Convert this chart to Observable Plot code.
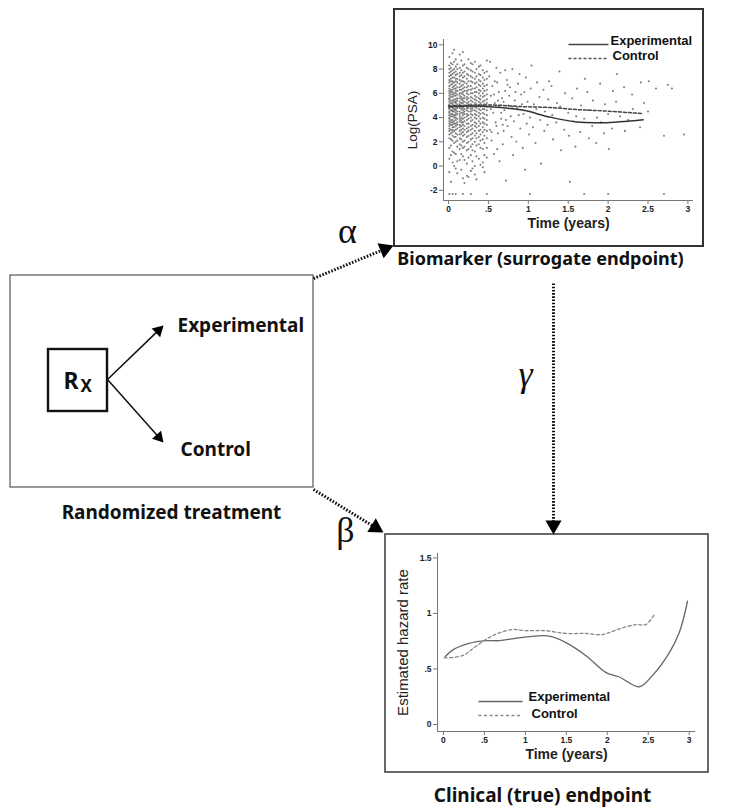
<!DOCTYPE html>
<html><head><meta charset="utf-8">
<script src="https://cdn.jsdelivr.net/npm/d3@7"></script>
<script src="https://cdn.jsdelivr.net/npm/@observablehq/plot@0.6"></script>
<style>
body{margin:0;background:#fff;}
#wrap{position:relative;width:731px;height:809px;overflow:hidden;background:#fff;}
#wrap > svg{position:absolute;}
svg g[aria-label$="tick label"]{font-weight:bold;}
</style></head><body><div id="wrap"></div>
<script>
// ---------- DATA ----------
// Top panel: biomarker Log(PSA) scatter, by visit column (years) and values
const visitTimes = [0.01,0.03,0.05,0.07,0.09,0.11,0.14,0.16,0.18,0.20,0.23,0.25,0.28,0.30,0.33,0.35,0.38,0.40,0.43,0.45,0.48];
const visitPSA = [
  [2.3,2.6,2.9,3.1,3.3,3.5,3.7,3.9,4.0,4.2,4.4,4.5,4.7,4.8,5.0,5.1,5.3,5.5,5.6,5.8,6.0,6.2,6.4,6.6,6.9,7.1,7.4,7.7,8.0,8.3,1.5,0.6,-0.5,9.0,-2.3],
  [2.2,2.7,3.0,3.4,3.6,3.8,4.1,4.3,4.6,4.9,5.2,5.4,5.7,5.9,6.1,6.3,6.7,7.0,7.2,7.5,7.8,8.1,8.5,1.7,0.9,-1.3],
  [2.1,2.5,2.8,3.0,3.2,3.4,3.6,3.8,4.1,4.3,4.5,4.6,4.8,4.9,5.1,5.2,5.4,5.7,5.9,6.1,6.3,6.5,6.8,7.0,7.3,7.6,7.9,8.4,1.2,0.3,9.3,-2.3],
  [1.9,2.4,2.9,3.2,3.5,3.7,4.0,4.2,4.5,4.7,5.0,5.3,5.5,5.8,6.0,6.4,6.6,6.9,7.3,7.7,8.0,8.6,1.1,0.0,9.6],
  [2.0,2.4,2.7,3.0,3.3,3.5,3.8,4.0,4.2,4.4,4.6,4.7,4.9,5.0,5.2,5.3,5.5,5.8,6.0,6.2,6.4,6.7,7.0,7.2,7.5,7.8,8.2,1.0,-0.2,8.8,-2.3],
  [2.1,2.6,3.1,3.4,3.6,3.9,4.3,4.5,4.8,5.1,5.4,5.6,5.9,6.2,6.5,6.9,7.2,7.6,8.0,8.4,1.6,0.4,-0.6],
  [1.8,2.3,2.6,2.9,3.2,3.4,3.7,3.9,4.1,4.3,4.5,4.8,5.0,5.1,5.3,5.6,5.8,6.0,6.3,6.5,6.8,7.1,7.4,7.7,8.1,1.4,0.5,9.2],
  [1.7,2.2,2.7,3.0,3.3,3.6,3.8,4.0,4.4,4.7,4.9,5.2,5.5,5.7,6.0,6.3,6.6,7.0,7.5,7.9,8.7,1.0,-0.3],
  [1.5,2.0,2.5,2.8,3.1,3.4,3.6,3.9,4.2,4.4,4.6,4.8,5.0,5.2,5.4,5.6,5.9,6.1,6.4,6.7,7.0,7.3,7.7,8.3,0.8,-1.0,9.4,-2.3],
  [1.6,2.1,2.6,3.0,3.3,3.7,4.0,4.3,4.5,4.7,5.0,5.3,5.6,5.8,6.2,6.5,6.9,7.4,7.8,8.4,0.5,-1.4],
  [1.3,1.9,2.4,2.8,3.1,3.5,3.8,4.1,4.3,4.6,4.8,5.0,5.2,5.5,5.7,6.0,6.2,6.5,6.8,7.2,7.6,8.1,0.2,-0.8],
  [1.4,2.0,2.5,2.9,3.2,3.5,3.9,4.2,4.5,4.8,5.1,5.3,5.6,5.9,6.3,6.6,7.0,7.5,8.0,8.8,0.7,-0.9],
  [1.6,2.2,2.6,3.0,3.3,3.7,4.0,4.3,4.5,4.7,4.9,5.1,5.4,5.7,6.0,6.3,6.6,7.0,7.4,7.9,8.5,0.9,-0.4,-2.3],
  [1.3,1.8,2.3,2.7,3.1,3.4,3.8,4.2,4.6,4.8,5.0,5.3,5.6,6.0,6.4,6.9,7.3,7.8,8.4,0.4,-0.2],
  [1.2,2.0,2.5,2.9,3.3,3.6,4.0,4.3,4.6,4.9,5.2,5.5,5.8,6.1,6.4,6.8,7.2,7.7,8.6,0.0,-0.7],
  [1.7,2.3,2.7,3.2,3.5,3.9,4.2,4.5,4.8,5.1,5.4,5.7,6.1,6.5,6.9,7.4,8.0,0.8,-1.1],
  [1.8,2.4,2.9,3.3,3.7,4.1,4.4,4.7,5.0,5.3,5.6,6.0,6.3,6.7,7.1,7.6,8.2,0.6],
  [1.5,2.1,2.6,3.0,3.5,3.9,4.3,4.6,4.9,5.2,5.5,5.8,6.2,6.6,7.0,7.5,8.3,0.1],
  [1.4,2.2,2.8,3.2,3.6,4.0,4.4,4.7,5.0,5.3,5.7,6.0,6.4,6.8,7.3,7.9,0.3,-0.1],
  [1.9,2.5,3.0,3.5,3.9,4.3,4.7,5.1,5.4,5.8,6.2,6.6,7.1,7.7,0.9,-0.5],
  [1.5,2.3,2.9,3.4,3.8,4.2,4.6,4.9,5.2,5.5,5.9,6.3,6.7,7.2,7.8,8.7,0.7,-2.3]
];
// Later, sparser observations [time, Log(PSA)]
const latePoints = [
  [0.52,3.0],[0.53,5.8],[0.51,7.4],[0.54,2.1],[0.56,4.4],[0.55,6.6],[0.57,1.0],[0.59,3.6],[0.58,5.2],[0.60,8.1],
  [0.62,2.7],[0.63,4.9],[0.61,6.9],[0.64,0.4],[0.66,3.9],[0.67,5.6],[0.65,7.7],[0.68,1.8],[0.70,4.6],[0.71,6.2],
  [0.69,2.9],[0.72,-1.2],[0.74,3.3],[0.75,5.0],[0.73,7.1],[0.78,4.1],[0.77,6.5],[0.79,2.4],[0.80,8.0],[0.82,3.7],
  [0.83,5.4],[0.81,0.9],[0.86,4.8],[0.87,6.8],[0.85,2.0],[0.90,3.1],[0.91,5.9],[0.89,7.6],[0.94,4.3],[0.95,6.1],
  [0.93,1.5],[0.96,-0.3],[0.98,3.5],[0.99,5.3],[0.97,7.3],[1.02,4.0],[1.03,6.4],[1.01,2.6],[1.04,8.3],[1.02,-2.3],
  [0.53,4.7],[0.57,5.9],[0.60,3.3],[0.63,6.1],[0.66,4.4],[0.69,5.3],[0.72,3.8],[0.76,5.8],[0.80,4.9],[0.84,6.1],
  [0.88,4.2],[0.92,5.1],[0.54,2.8],[0.58,7.0],[0.62,5.4],[0.68,3.4],[0.74,6.7],[0.52,8.6],[0.61,1.4],[0.71,7.9],
  [1.06,3.2],[1.07,5.1],[1.10,4.7],[1.11,6.9],[1.09,1.9],[1.15,3.8],[1.14,5.7],[1.16,0.2],[1.20,2.9],[1.21,4.5],
  [1.19,6.3],[1.25,5.5],[1.26,7.0],[1.24,3.4],[1.30,4.2],[1.31,2.2],[1.29,6.6],[1.35,3.6],[1.36,5.2],[1.40,4.9],
  [1.41,1.3],[1.39,7.8],[1.45,3.0],[1.46,6.0],[1.50,4.4],[1.51,2.5],[1.52,-1.3],[1.55,5.6],[1.56,3.7],[1.60,4.1],
  [1.61,6.4],[1.59,1.6],[1.65,2.8],[1.66,5.0],[1.70,3.9],[1.71,7.2],[1.70,-2.3],[1.75,4.6],[1.76,2.3],[1.74,6.1],
  [1.80,3.3],[1.81,5.4],[1.85,1.9],[1.86,4.0],[1.90,6.8],[1.91,3.6],[1.95,2.7],[1.96,5.1],[2.00,4.3],[2.01,1.4],
  [2.00,-2.3],[2.05,3.1],[2.06,6.2],[2.10,5.3],[2.11,7.6],[2.15,4.1],[2.20,6.5],[2.21,2.9],[2.25,3.8],[2.30,5.9],
  [2.31,4.7],[2.40,3.2],[2.41,6.9],[2.45,5.2],[2.50,4.5],[2.51,7.0],[2.60,6.4],[2.70,2.5],[2.70,-2.3],[2.75,6.7],
  [2.80,6.4],[2.95,2.6]
];
// Smoothed Log(PSA) curves
const psaTimeExp = [0.0,0.31,0.65,0.94,1.27,1.61,1.94,2.44];
const psaExp     = [4.9,4.95,4.83,4.6,4.04,3.63,3.58,3.83];
const psaTimeCtl = [0.0,0.52,0.94,1.27,1.61,1.94,2.44];
const psaCtl     = [4.95,5.04,4.9,4.83,4.66,4.55,4.33];
// Bottom panel: estimated hazard rate
const hazTimeExp = [0.02,0.11,0.31,0.52,0.68,0.92,1.21,1.33,1.49,1.74,1.98,2.14,2.39,2.55,2.76,2.88,2.98];
const hazExp     = [0.61,0.67,0.73,0.755,0.755,0.78,0.80,0.79,0.74,0.62,0.47,0.43,0.34,0.44,0.65,0.83,1.11];
const hazTimeCtl = [0.01,0.23,0.39,0.60,0.84,1.00,1.25,1.49,1.74,1.94,2.14,2.35,2.47,2.57];
const hazCtl     = [0.60,0.62,0.70,0.80,0.855,0.845,0.845,0.82,0.82,0.81,0.86,0.90,0.90,0.985];
// Tick values
const timeTicks = [0,0.5,1,1.5,2,2.5,3];
const psaTicks = [-2,0,2,4,6,8,10];
const hazTicks = [0,0.5,1,1.5];
const seriesNames = ["Experimental","Control"];

// ---------- BUILD ----------
const scatter = [];
visitTimes.forEach((t,i)=>visitPSA[i].forEach(v=>scatter.push({t,v})));
latePoints.forEach(([t,v])=>scatter.push({t,v}));
const zip = (xs,ys)=>xs.map((x,i)=>({x,y:ys[i]}));
const stataFmt = d => d===0 ? "0" : (Math.abs(d)<1 ? String(d).replace("0.",".") : String(d));

const SANS = "'Noto Sans', 'DejaVu Sans', sans-serif";
const ARIAL = "'Liberation Sans', Arial, sans-serif";
const SERIF = "'Liberation Serif', 'DejaVu Serif', serif";
const wrap = document.getElementById("wrap");

// Diagram layer (pixel-identity scales)
const W=731,H=809;
const boxes = [
  {x1:10,x2:313,y1:275,y2:487,sw:1.2,stroke:"#555"},
  {x1:394,x2:703,y1:9,y2:246,sw:2,stroke:"#333"},
  {x1:385,x2:708,y1:534,y2:772,sw:1.6,stroke:"#444"},
  {x1:48,x2:107,y1:349,y2:411,sw:2.4,stroke:"#111"}
];
const bigHead = 6, smallHead = 4.5;
const arrows = [
  {x1:313,y1:278,x2:393,y2:245,dotted:true},
  {x1:553,y1:283,x2:553,y2:534,dotted:true},
  {x1:313,y1:489,x2:383,y2:532,dotted:true},
  {x1:107,y1:379,x2:163,y2:325,dotted:false},
  {x1:107,y1:379,x2:163,y2:442,dotted:false}
];
arrows.forEach(a=>{
  const r = a.dotted ? bigHead : smallHead;
  const dx=a.x2-a.x1, dy=a.y2-a.y1, L=Math.hypot(dx,dy);
  const ty=Math.sqrt(Math.PI*r*r/(3*Math.sqrt(3)));
  a.cx=a.x2-dx/L*2*ty; a.cy=a.y2-dy/L*2*ty;
  a.angle=Math.atan2(dx,-dy)*180/Math.PI;
});
const dotted = arrows.filter(a=>a.dotted), solid = arrows.filter(a=>!a.dotted);
const txt = (x,y,text,o)=>Plot.text([text],{x:()=>x,y:()=>y,text:d=>d,fill:"#111",...o});
const legendTop = {x1:568,x2:608,y:[44,58],tx:[610,612],ty:[40,55]};
const legendBot = {x1:478,x2:522,y:[701,715],tx:[528,531],ty:[696,713]};
const legendMarks = (lg,color,dash)=>[
  Plot.link([0],{x1:()=>lg.x1,x2:()=>lg.x2,y1:()=>lg.y[0],y2:()=>lg.y[0],stroke:color[0],strokeWidth:1.3}),
  Plot.link([0],{x1:()=>lg.x1,x2:()=>lg.x2,y1:()=>lg.y[1],y2:()=>lg.y[1],stroke:color[1],strokeWidth:1.3,strokeDasharray:dash}),
  txt(lg.tx[0],lg.ty[0],seriesNames[0],{fontFamily:ARIAL,fontWeight:"bold",fontSize:13,textAnchor:"start"}),
  txt(lg.tx[1],lg.ty[1],seriesNames[1],{fontFamily:ARIAL,fontWeight:"bold",fontSize:13,textAnchor:"start"})
];

const diagram = Plot.plot({
  width:W,height:H,margin:0,
  x:{domain:[0,W],range:[0,W],axis:null},
  y:{domain:[0,H],range:[0,H],axis:null},
  style:{background:"white"},
  marks:[
    Plot.rect(boxes,{x1:"x1",x2:"x2",y1:"y1",y2:"y2",fill:"none",stroke:"stroke",strokeWidth:"sw"}),
    Plot.link(dotted,{x1:"x1",y1:"y1",x2:"cx",y2:"cy",stroke:"#111",strokeWidth:3,strokeDasharray:"1.6,1.6"}),
    Plot.link(solid,{x1:"x1",y1:"y1",x2:"cx",y2:"cy",stroke:"#111",strokeWidth:1.5}),
    Plot.dot(dotted,{x:"cx",y:"cy",r:bigHead,symbol:"triangle",fill:"#000",stroke:null,rotate:"angle"}),
    Plot.dot(solid,{x:"cx",y:"cy",r:smallHead,symbol:"triangle",fill:"#000",stroke:null,rotate:"angle"}),
    txt(63,381,"R",{fontFamily:SANS,fontWeight:"bold",fontSize:23,textAnchor:"start"}),
    txt(80,386,"X",{fontFamily:SANS,fontWeight:"bold",fontSize:17,textAnchor:"start"}),
    txt(177,325,"Experimental",{fontFamily:SANS,fontWeight:"bold",fontSize:19,textAnchor:"start"}),
    txt(180,449,"Control",{fontFamily:SANS,fontWeight:"bold",fontSize:19,textAnchor:"start"}),
    txt(171,512,"Randomized treatment",{fontFamily:SANS,fontWeight:"bold",fontSize:19}),
    txt(540,259,"Biomarker (surrogate endpoint)",{fontFamily:SANS,fontWeight:"bold",fontSize:18}),
    txt(542,795,"Clinical (true) endpoint",{fontFamily:SANS,fontWeight:"bold",fontSize:19}),
    txt(347,231,"α",{fontFamily:SERIF,fontSize:36}),
    txt(345,530,"β",{fontFamily:SERIF,fontSize:36}),
    txt(525,374,"γ",{fontFamily:SERIF,fontSize:36,fontStyle:"italic"}),
    ...legendMarks(legendTop,["#444","#555"],"3,2"),
    ...legendMarks(legendBot,["#666","#888"],"3,2.5")
  ]
});
wrap.appendChild(diagram);
diagram.style.left="0px"; diagram.style.top="0px";

// Top panel
const topX=[-0.063,3.07], topY=[-2.84,10.44];
const topPlot = Plot.plot({
  width:309,height:237,marginLeft:49,marginRight:10,marginTop:30,marginBottom:46,
  x:{domain:topX}, y:{domain:topY},
  style:{background:"transparent",fontFamily:ARIAL,color:"#222"},
  marks:[
    Plot.dot(scatter,{x:"t",y:"v",r:1.05,fill:"#555",fillOpacity:0.75,stroke:null}),
    Plot.ruleX([topX[0]],{stroke:"#777"}),
    Plot.ruleY([topY[0]],{stroke:"#777"}),
    Plot.axisX({ticks:timeTicks,tickFormat:stataFmt,tickSize:4,tickPadding:1,fontSize:8.5,label:null,stroke:"#777"}),
    Plot.axisY({ticks:psaTicks,tickFormat:stataFmt,tickSize:4,tickPadding:2,fontSize:8.5,label:null,stroke:"#777"}),
    Plot.line(zip(psaTimeExp,psaExp),{x:"x",y:"y",stroke:"#333",strokeWidth:1.5,curve:"catmull-rom"}),
    Plot.line(zip(psaTimeCtl,psaCtl),{x:"x",y:"y",stroke:"#444",strokeWidth:1.5,strokeDasharray:"3,2",curve:"catmull-rom"}),
    Plot.text(["Log(PSA)"],{frameAnchor:"left",dx:-31,rotate:-90,text:d=>d,fontSize:13.5,textAnchor:"middle",lineAnchor:"middle",fill:"#222"}),
    Plot.text(["Time (years)"],{frameAnchor:"bottom",dy:23,text:d=>d,fontSize:14,fontWeight:"bold",textAnchor:"middle",lineAnchor:"middle",fill:"#222"})
  ]
});
wrap.appendChild(topPlot);
topPlot.style.left="394px"; topPlot.style.top="9px";

// Bottom panel
const botX=[-0.073,3.077], botY=[-0.063,1.54];
const botPlot = Plot.plot({
  width:323,height:238,marginLeft:52,marginRight:13,marginTop:19,marginBottom:41,
  x:{domain:botX}, y:{domain:botY},
  style:{background:"transparent",fontFamily:ARIAL,color:"#222"},
  marks:[
    Plot.ruleX([botX[0]],{stroke:"#777"}),
    Plot.ruleY([botY[0]],{stroke:"#777"}),
    Plot.axisX({ticks:timeTicks,tickFormat:stataFmt,tickSize:4,tickPadding:1,fontSize:8.5,label:null,stroke:"#777"}),
    Plot.axisY({ticks:hazTicks,tickFormat:stataFmt,tickSize:4,tickPadding:2,fontSize:8.5,label:null,stroke:"#777"}),
    Plot.line(zip(hazTimeExp,hazExp),{x:"x",y:"y",stroke:"#666",strokeWidth:1.3,curve:"catmull-rom"}),
    Plot.line(zip(hazTimeCtl,hazCtl),{x:"x",y:"y",stroke:"#888",strokeWidth:1.3,strokeDasharray:"3,2.5",curve:"catmull-rom"}),
    Plot.text(["Estimated hazard rate"],{frameAnchor:"left",dx:-34,rotate:-90,text:d=>d,fontSize:15,textAnchor:"middle",lineAnchor:"middle",fill:"#222"}),
    Plot.text(["Time (years)"],{frameAnchor:"bottom",dy:23,text:d=>d,fontSize:14,fontWeight:"bold",textAnchor:"middle",lineAnchor:"middle",fill:"#222"})
  ]
});
wrap.appendChild(botPlot);
botPlot.style.left="385px"; botPlot.style.top="534px";
</script></body></html>
